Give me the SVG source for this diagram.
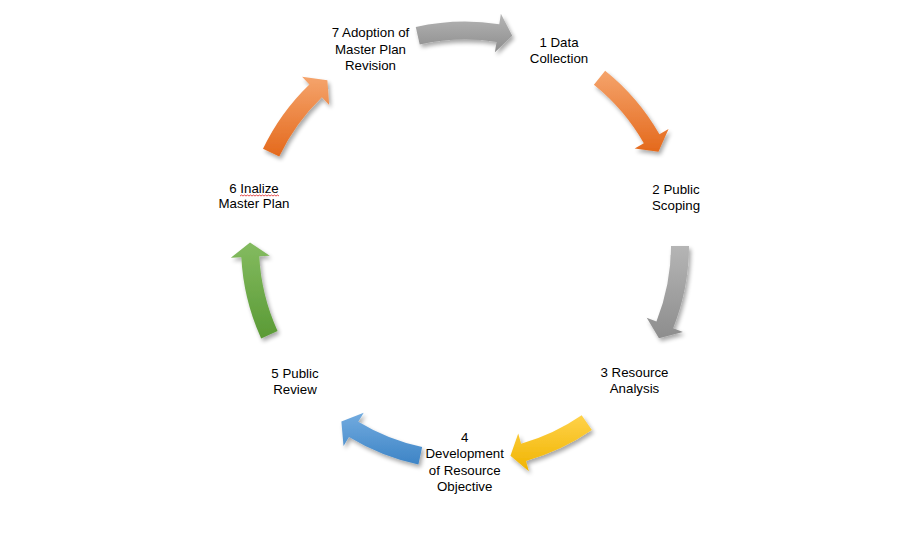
<svg xmlns="http://www.w3.org/2000/svg" width="916" height="535" viewBox="0 0 916 535">
<defs>
<style>
.lbl{font-family:"Liberation Sans",Arial,sans-serif;font-size:13.3px;fill:#000;text-anchor:middle}
</style>
<filter id="sh" x="-30%" y="-30%" width="160%" height="160%">
<feGaussianBlur in="SourceAlpha" stdDeviation="2"/>
<feOffset dx="2" dy="3" result="b"/>
<feComponentTransfer><feFuncA type="linear" slope="0.35"/></feComponentTransfer>
<feMerge><feMergeNode/><feMergeNode in="SourceGraphic"/></feMerge>
</filter>
<linearGradient id="gGray" x1="0" y1="0" x2="0" y2="1"><stop offset="0" stop-color="#b5b5b5"/><stop offset="1" stop-color="#8d8d8d"/></linearGradient>
<linearGradient id="gOrange" x1="0" y1="0" x2="0" y2="1"><stop offset="0" stop-color="#f5a46c"/><stop offset="1" stop-color="#e4691c"/></linearGradient>
<linearGradient id="gYellow" x1="0" y1="0" x2="0" y2="1"><stop offset="0" stop-color="#ffd24a"/><stop offset="1" stop-color="#f0b400"/></linearGradient>
<linearGradient id="gBlue" x1="0" y1="0" x2="0" y2="1"><stop offset="0" stop-color="#72abdf"/><stop offset="1" stop-color="#3d84c6"/></linearGradient>
<linearGradient id="gGreen" x1="0" y1="0" x2="0" y2="1"><stop offset="0" stop-color="#84bb60"/><stop offset="1" stop-color="#5a9a35"/></linearGradient>
</defs>
<rect width="916" height="535" fill="#fff"/>
<g id="connectors" filter="url(#sh)">
<path id="arrow-7-1" fill="url(#gGray)" d="M415.76,26.98 A224,224 0 0 1 499.27,24.14 L500.88,13.76 L512.26,35.76 L494.91,52.30 L496.52,41.92 A206,206 0 0 0 419.72,44.54 Z"/>
<path id="arrow-1-2" fill="url(#gOrange)" d="M605.15,70.74 A224,224 0 0 1 659.43,134.28 L668.55,129.07 L658.46,151.67 L634.69,148.43 L643.81,143.22 A206,206 0 0 0 593.89,84.78 Z"/>
<path id="arrow-2-3" fill="url(#gGray)" d="M689.00,246.12 A224,224 0 0 1 673.19,328.18 L682.94,332.05 L658.97,338.27 L646.70,317.66 L656.46,321.53 A206,206 0 0 0 671.00,246.07 Z"/>
<path id="arrow-3-4" fill="url(#gYellow)" d="M591.87,430.10 A224,224 0 0 1 526.00,461.03 L528.85,471.14 L510.43,455.64 L518.23,433.61 L521.09,443.71 A206,206 0 0 0 581.68,415.26 Z"/>
<path id="arrow-4-5" fill="url(#gBlue)" d="M418.43,464.59 A224,224 0 0 1 348.97,437.11 L343.53,446.09 L341.37,421.39 L363.73,412.73 L358.29,421.71 A206,206 0 0 0 422.17,446.99 Z"/>
<path id="arrow-5-6" fill="url(#gGreen)" d="M261.16,338.39 A224,224 0 0 1 241.31,257.22 L230.82,257.77 L250.02,242.50 L269.77,255.73 L259.28,256.28 A206,206 0 0 0 277.54,330.93 Z"/>
<path id="arrow-6-7" fill="url(#gOrange)" d="M263.00,148.71 A224,224 0 0 1 309.39,84.38 L302.09,76.82 L327.38,80.32 L329.19,104.88 L321.89,97.32 A206,206 0 0 0 279.23,156.49 Z"/>
</g>
<g id="node-1"><text class="lbl" x="559" y="46.5">1 Data</text><text class="lbl" x="559" y="62.5">Collection</text></g>
<g id="node-2"><text class="lbl" x="676" y="194">2 Public</text><text class="lbl" x="676" y="209.5">Scoping</text></g>
<g id="node-3"><text class="lbl" x="634.5" y="377">3 Resource</text><text class="lbl" x="634.5" y="393">Analysis</text></g>
<g id="node-4"><text class="lbl" x="464.7" y="442">4</text><text class="lbl" x="464.7" y="458">Development</text><text class="lbl" x="464.7" y="474.5">of Resource</text><text class="lbl" x="464.7" y="491">Objective</text></g>
<g id="node-5"><text class="lbl" x="295" y="378">5 Public</text><text class="lbl" x="295" y="393.5">Review</text></g>
<g id="node-6"><text class="lbl" x="254" y="193">6 Inalize</text><text class="lbl" x="254" y="208">Master Plan</text>
<path fill="none" stroke="#e03a3a" stroke-width="0.9" d="M240,196 l1.5,-1 l1.5,1 l1.5,-1 l1.5,1 l1.5,-1 l1.5,1 l1.5,-1 l1.5,1 l1.5,-1 l1.5,1 l1.5,-1 l1.5,1 l1.5,-1 l1.5,1 l1.5,-1 l1.5,1 l1.5,-1 l1.5,1 l1.5,-1 l1.5,1 l1.5,-1 l1.5,1 l1.5,-1 l1.5,1 l1.5,-1 l1.5,1"/></g>
<g id="node-7"><text class="lbl" x="370.5" y="37">7 Adoption of</text><text class="lbl" x="370.5" y="53.5">Master Plan</text><text class="lbl" x="370.5" y="70">Revision</text></g>
</svg>
